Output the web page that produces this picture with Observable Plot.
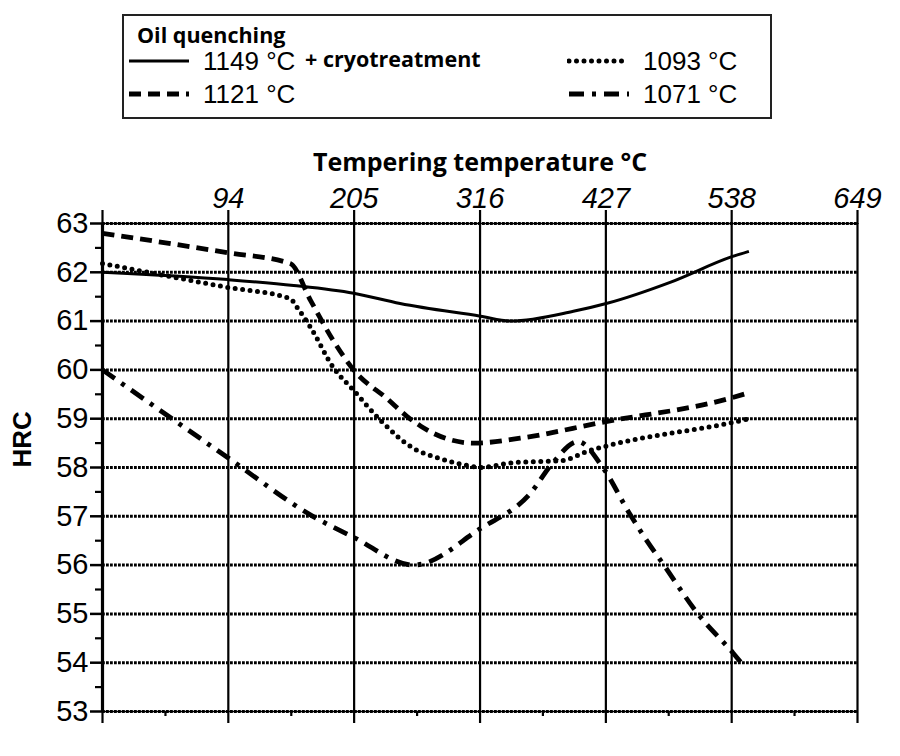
<!DOCTYPE html>
<html><head><meta charset="utf-8">
<script src="https://cdn.jsdelivr.net/npm/d3@7"></script>
<script src="https://cdn.jsdelivr.net/npm/@observablehq/plot@0.6"></script>
<style>
body{margin:0;background:#fff;width:900px;height:756px;position:relative;overflow:hidden;font-family:"Liberation Sans",Arial,sans-serif;color:#000;}
#legend{position:absolute;left:122px;top:14px;width:650px;height:105px;border:2px solid #222;box-sizing:border-box;}
.lg{position:absolute;white-space:nowrap;line-height:26px;height:26px;}
.num{font-family:"Liberation Sans",Arial,sans-serif;font-size:26px;}
.bold{font-family:"Open Sans",sans-serif;font-weight:700;font-size:21.5px;}
.ttl{line-height:22px;height:22px;}
.sw{position:absolute;}
#chart{position:absolute;left:0;top:128px;}
</style></head>
<body>
<div id="legend"></div>
<div id="chart"></div>
<script>
// ---- data ----
const legendTitle = "Oil quenching";
const seriesNames = ["1149 °C", "1121 °C", "1093 °C", "1071 °C"];
const seriesSuffix = ["+ cryotreatment", "", "", ""];
const titleText = "Tempering temperature °C";
const yLabelText = "HRC";

const xDomain = [-17.8, 648.9];
const xTickValues = [93.3, 204.4, 315.6, 426.7, 537.8, 648.9];
const xTickLabels = ["94", "205", "316", "427", "538", "649"];
const xMinorTicks = [37.8, 148.9, 260.0, 371.1, 482.2, 593.3];
const yTicks = [53, 54, 55, 56, 57, 58, 59, 60, 61, 62, 63];
const yMinorTicks = [53.5, 54.5, 55.5, 56.5, 57.5, 58.5, 59.5, 60.5, 61.5, 62.5];

const temp1149 = [-17.8, 93, 151, 204, 245, 316, 343, 398, 427, 484, 538, 553];
const hrc1149  = [62.0, 61.85, 61.73, 61.57, 61.36, 61.1, 61.0, 61.2, 61.36, 61.8, 62.32, 62.43];

const temp1121 = [-17.8, 93, 148, 166, 186, 204, 234, 251, 263, 310, 351, 422, 538, 554];
const hrc1121  = [62.8, 62.4, 62.18, 61.42, 60.6, 60.0, 59.4, 59.05, 58.85, 58.5, 58.6, 58.92, 59.43, 59.54];

const temp1093 = [-17.8, 93, 148, 154, 166, 186, 204, 228, 257, 278, 305, 316, 345, 387, 413, 429, 538, 554];
const hrc1093  = [62.18, 61.69, 61.46, 61.28, 60.87, 60.05, 59.58, 58.96, 58.39, 58.2, 58.04, 58.0, 58.1, 58.14, 58.35, 58.45, 58.92, 59.0];

const temp1071 = [-17.8, 93, 168, 204, 257, 316, 360, 380, 402, 424, 447, 464, 477, 508, 539, 548];
const hrc1071  = [60.0, 58.2, 57.0, 56.57, 56.0, 56.75, 57.47, 58.1, 58.53, 58.0, 57.08, 56.46, 56.03, 55.0, 54.2, 53.95];

// ---- styles ----
const lineStyles = [
  {strokeWidth: 3, strokeDasharray: null, strokeLinecap: "butt"},
  {strokeWidth: 4.8, strokeDasharray: "12,7", strokeLinecap: "butt"},
  {strokeWidth: 5, strokeDasharray: "0,7.5", strokeLinecap: "round"},
  {strokeWidth: 4.8, strokeDasharray: "15,8,4,8", strokeLinecap: "butt"}
];

const temps = [temp1149, temp1121, temp1093, temp1071];
const hrcs = [hrc1149, hrc1121, hrc1093, hrc1071];
const table = seriesNames.map((name, i) => temps[i].map((t, j) => ({series: name, t, hrc: hrcs[i][j]})));
const labelMap = new Map(xTickValues.map((v, i) => [v, xTickLabels[i]]));

// ---- legend (HTML) ----
const legend = document.getElementById("legend");
function add(html, left, top, cls) {
  const d = document.createElement("div");
  d.className = "lg " + (cls || "");
  d.style.left = left + "px"; d.style.top = top + "px";
  d.innerHTML = html; legend.appendChild(d);
}
function swatch(i, left, cy) {
  const s = lineStyles[i];
  const ns = "http://www.w3.org/2000/svg";
  const svg = document.createElementNS(ns, "svg");
  svg.setAttribute("width", 62); svg.setAttribute("height", 10);
  svg.setAttribute("class", "sw");
  svg.style.left = left + "px"; svg.style.top = (cy - 5) + "px";
  const l = document.createElementNS(ns, "line");
  l.setAttribute("x1", 2); l.setAttribute("x2", 62); l.setAttribute("y1", 5); l.setAttribute("y2", 5);
  l.setAttribute("stroke", "#000");
  l.setAttribute("stroke-width", s.strokeWidth);
  if (s.strokeDasharray) l.setAttribute("stroke-dasharray", s.strokeDasharray);
  l.setAttribute("stroke-linecap", s.strokeLinecap);
  svg.appendChild(l); legend.appendChild(svg);
}
add(legendTitle, 13, 8, "bold ttl");
const legPos = [[3, 45], [3, 78], [443, 45], [443, 78]];
seriesNames.forEach((n, i) => {
  const [lx, cy] = legPos[i];
  swatch(i, lx, cy);
  add(n, lx + 76, cy - 13, "num");
  if (seriesSuffix[i]) add(seriesSuffix[i], lx + 178, cy - 15, "bold");
});

// ---- chart ----
const lineMarks = table.map((rows, i) => Plot.line(rows, {
  x: "t", y: "hrc", stroke: "#000", curve: "monotone-x",
  strokeWidth: lineStyles[i].strokeWidth,
  strokeDasharray: lineStyles[i].strokeDasharray || undefined,
  strokeLinecap: lineStyles[i].strokeLinecap,
  strokeLinejoin: "round"
}));

const chart = Plot.plot({
  width: 900,
  height: 628,
  marginTop: 95,
  marginBottom: 45,
  marginLeft: 102,
  marginRight: 43,
  style: {fontFamily: "Liberation Sans, Arial, sans-serif", fontSize: "29px", color: "#000", background: "#fff"},
  x: {domain: xDomain, label: null},
  y: {domain: [53, 63], label: null},
  marks: [
    Plot.ruleY([yTicks[0], yTicks[yTicks.length - 1]], {stroke: "#000", strokeWidth: 1.5}),
    Plot.gridY(yTicks, {stroke: "#000", strokeOpacity: 1, strokeWidth: 3, strokeDasharray: "2.8,1.2"}),
    Plot.gridX(xTickValues, {stroke: "#000", strokeOpacity: 1, strokeWidth: 2.2}),
    Plot.ruleX([xDomain[0]], {stroke: "#000", strokeWidth: 3.2}),
    Plot.axisX([xDomain[0], ...xTickValues], {anchor: "top", tickSize: 14, tickPadding: 2, strokeWidth: 2.2, fontSize: 29, fontStyle: "italic", label: null, tickFormat: d => labelMap.get(d) || ""}),
    Plot.axisX([xDomain[0], ...xTickValues], {anchor: "bottom", tickSize: 12, strokeWidth: 2.2, label: null, tickFormat: () => ""}),
    Plot.axisX(xMinorTicks, {anchor: "bottom", tickSize: 5, strokeWidth: 2.2, label: null, tickFormat: () => ""}),
    Plot.axisY(yTicks, {anchor: "left", tickSize: 12, tickPadding: 2, strokeWidth: 2.5, fontSize: 29, label: null}),
    Plot.axisY(yMinorTicks, {anchor: "left", tickSize: 7, strokeWidth: 2.2, label: null, tickFormat: () => ""}),
    ...lineMarks,
    Plot.text([titleText], {frameAnchor: "top", dy: -70, fontSize: 25, fontWeight: "bold", fontFamily: "Open Sans, sans-serif", fill: "#000"}),
    Plot.text([yLabelText], {frameAnchor: "left", dx: -80, rotate: -90, fontSize: 26, fontWeight: "bold", fontFamily: "Liberation Sans, Arial, sans-serif", fill: "#000"})
  ]
});
document.getElementById("chart").appendChild(chart);
</script>
</body></html>
